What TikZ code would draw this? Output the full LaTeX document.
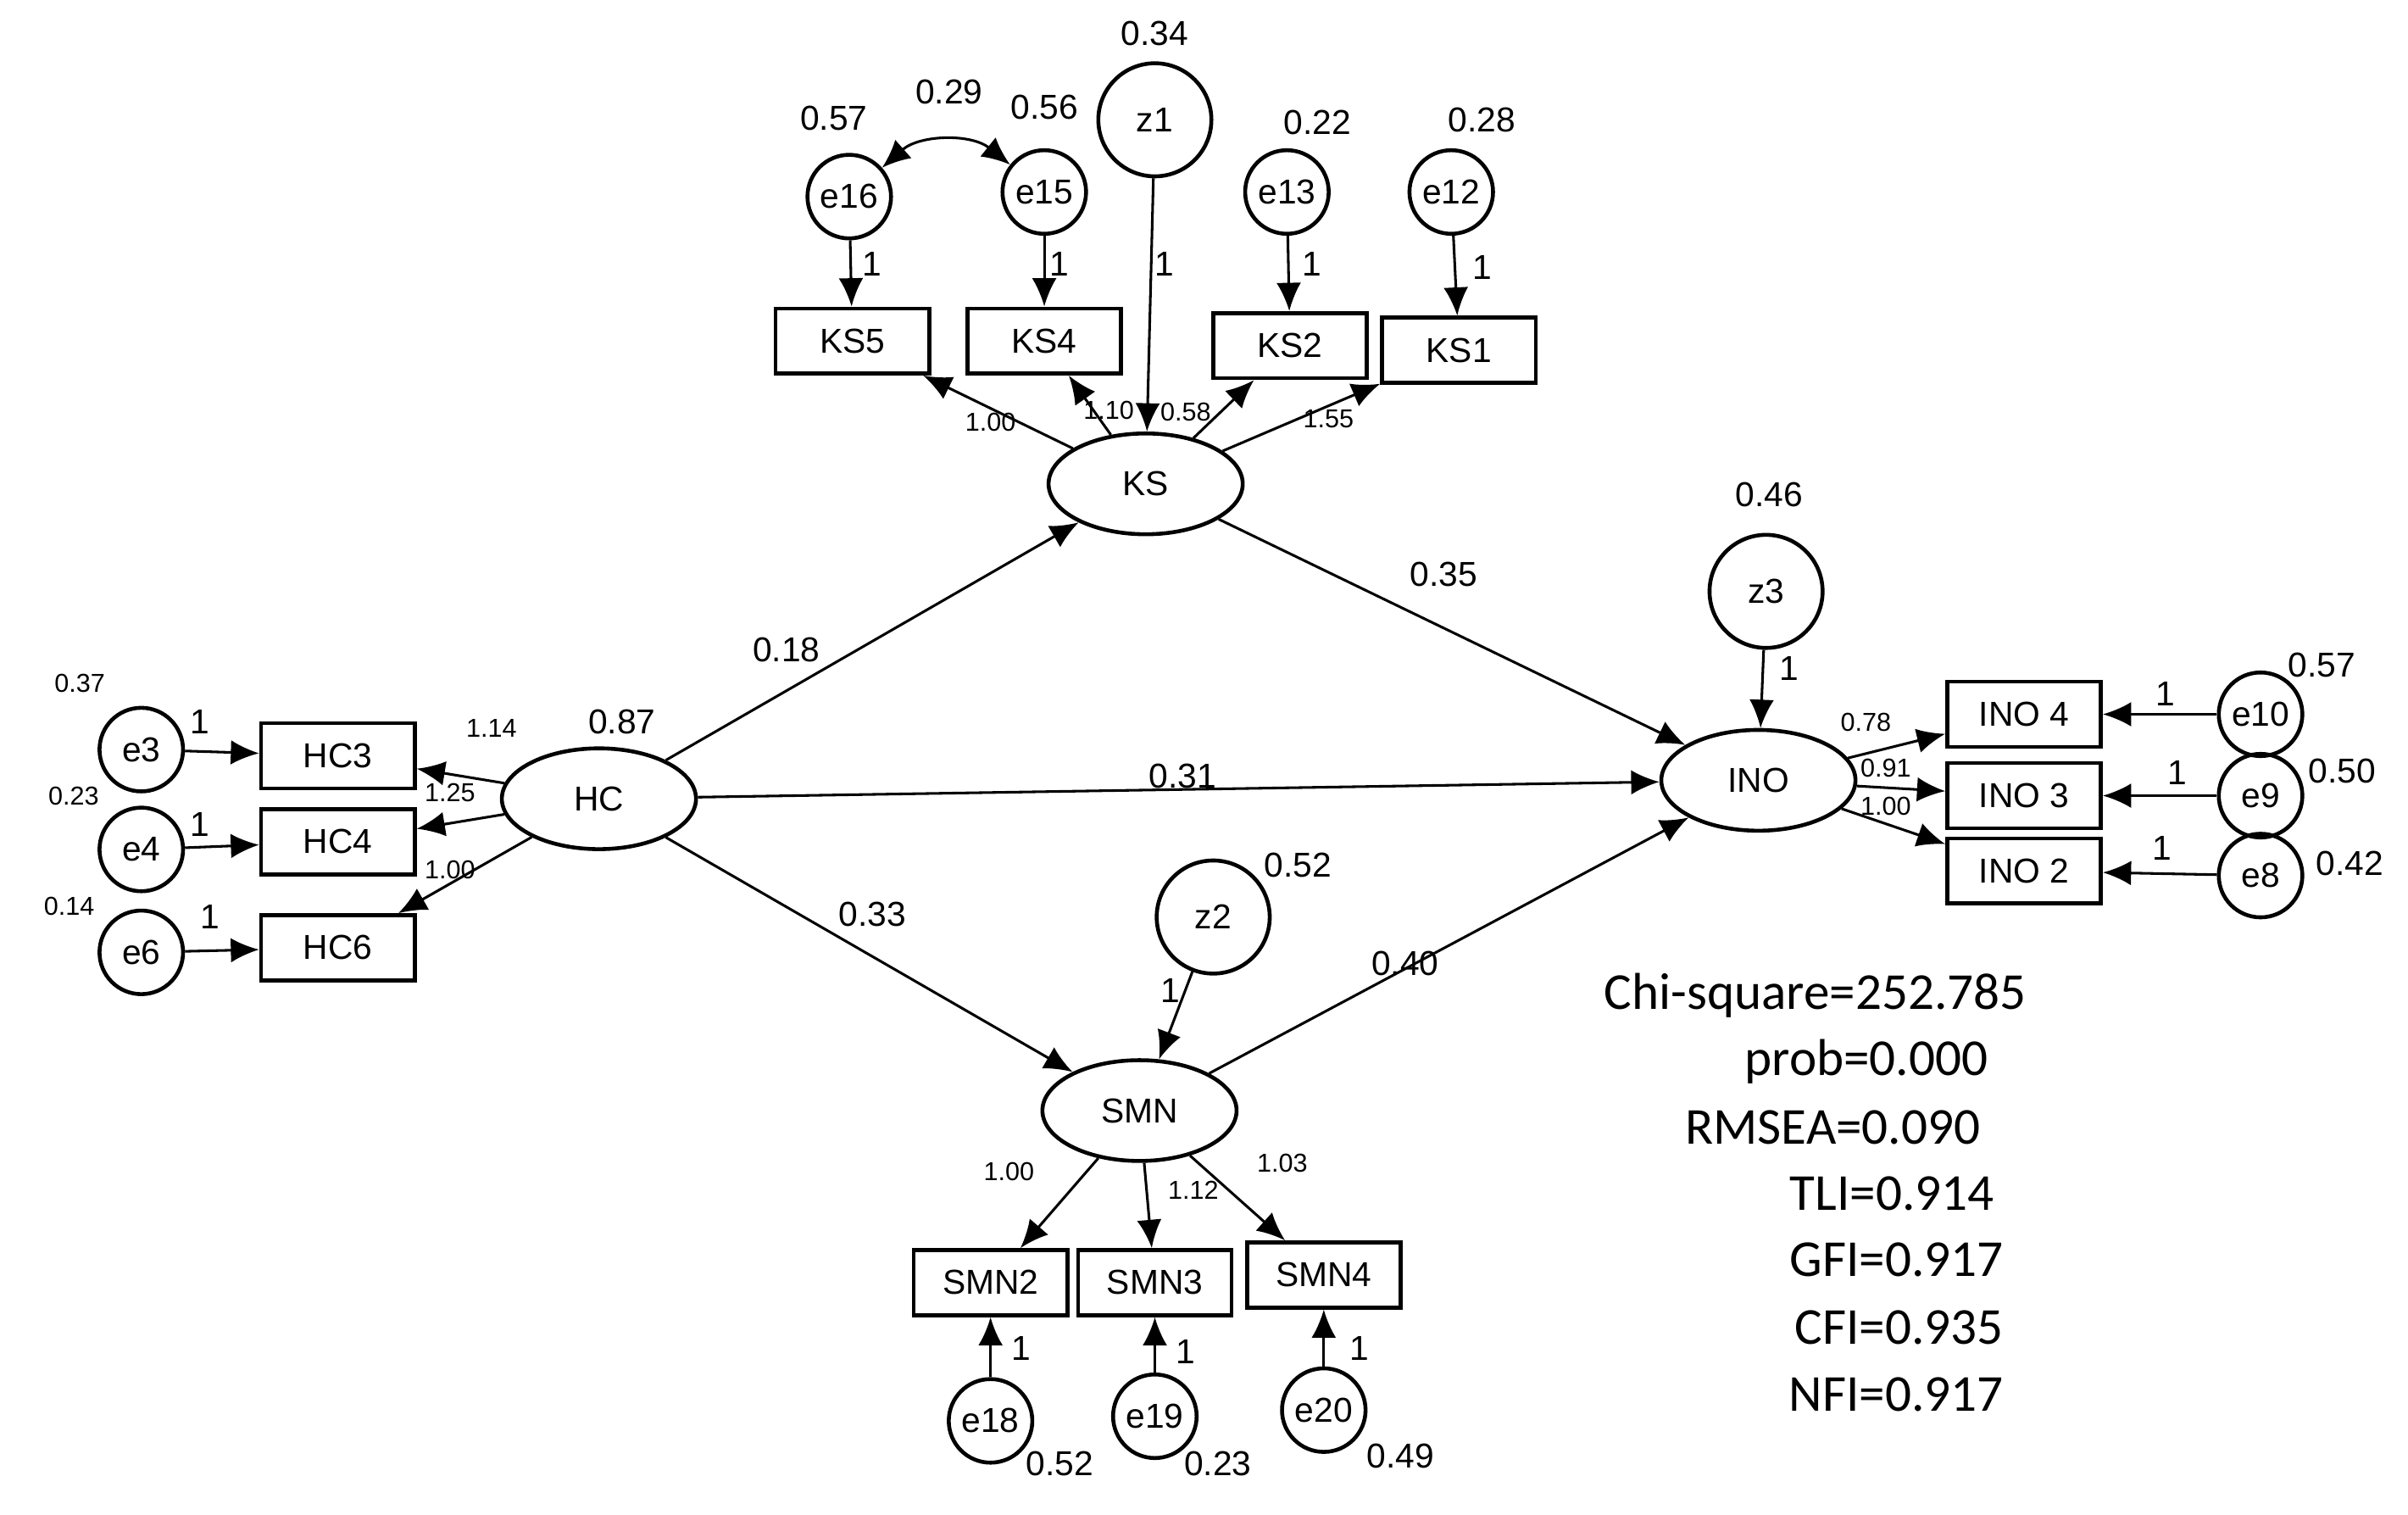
\documentclass[tikz,border=0pt]{standalone}
\usepackage{fontspec}
\usetikzlibrary{shapes.geometric,arrows.meta}
\setmainfont{Liberation Sans}
\newfontfamily\statf{Carlito}
\begin{document}
\begin{tikzpicture}[x=0.0125cm,y=-0.0125cm,
 box/.style={draw,line width=0.9pt,minimum width=1.25cm,minimum height=0.53cm,inner sep=0pt,font=\fontsize{8}{9}\selectfont},
 err/.style={draw,circle,line width=0.9pt,minimum size=0.68cm,inner sep=0pt,font=\fontsize{8}{9}\selectfont},
 dist/.style={draw,circle,line width=0.9pt,minimum size=0.92cm,inner sep=0pt,font=\fontsize{8}{9}\selectfont},
 lat/.style={draw,ellipse,line width=0.9pt,minimum width=1.58cm,minimum height=0.82cm,inner sep=0pt,font=\fontsize{8}{9}\selectfont},
 arr/.style={-{Latex[length=2.3mm,width=2mm]},line width=0.6pt},
 sm/.style={font=\fontsize{6}{7}\selectfont,inner sep=0pt},
 md/.style={font=\fontsize{8}{9}\selectfont,inner sep=0pt},
 st/.style={font=\statf\fontsize{12}{14}\selectfont,inner sep=0pt}]
\useasboundingbox (0,0) rectangle (1568,986);
% latent
\node[lat] (KS) at (746,315) {KS};
\node[lat] (HC) at (390,520) {HC};
\node[lat] (INO) at (1145,508) {INO};
\node[lat] (SMN) at (742,723) {SMN};
% disturbances
\node[dist] (z1) at (752,78) {z1};
\node[dist] (z3) at (1150,385) {z3};
\node[dist] (z2) at (790,597) {z2};
% KS indicators
\node[box] (KS5) at (555,222) {KS5};
\node[box] (KS4) at (680,222) {KS4};
\node[box] (KS2) at (840,225) {KS2};
\node[box] (KS1) at (950,228) {KS1};
\node[err] (e16) at (553,128) {e16};
\node[err] (e15) at (680,125) {e15};
\node[err] (e13) at (838,125) {e13};
\node[err] (e12) at (945,125) {e12};
% HC
\node[box] (HC3) at (220,492) {HC3};
\node[box] (HC4) at (220,548) {HC4};
\node[box] (HC6) at (220,617) {HC6};
\node[err] (e3) at (92,488) {e3};
\node[err] (e4) at (92,553) {e4};
\node[err] (e6) at (92,620) {e6};
% INO
\node[box] (INO4) at (1318,465) {INO 4};
\node[box] (INO3) at (1318,518) {INO 3};
\node[box] (INO2) at (1318,567) {INO 2};
\node[err] (e10) at (1472,465) {e10};
\node[err] (e9) at (1472,518) {e9};
\node[err] (e8) at (1472,570) {e8};
% SMN
\node[box] (SMN2) at (645,835) {SMN2};
\node[box] (SMN3) at (752,835) {SMN3};
\node[box] (SMN4) at (862,830) {SMN4};
\node[err] (e18) at (645,925) {e18};
\node[err] (e19) at (752,922) {e19};
\node[err] (e20) at (862,918) {e20};
% arrows
\foreach \a/\b in {e16/KS5,e15/KS4,e13/KS2,e12/KS1,z1/KS,z3/INO,z2/SMN,e3/HC3,e4/HC4,e6/HC6,e10/INO4,e9/INO3,e8/INO2,e18/SMN2,e19/SMN3,e20/SMN4,
 KS/KS5,KS/KS4,KS/KS2,KS/KS1,HC/HC3,HC/HC4,HC/HC6,INO/INO4,INO/INO3,INO/INO2,SMN/SMN2,SMN/SMN3,SMN/SMN4,HC/KS,HC/INO,HC/SMN,KS/INO,SMN/INO}
 \draw[arr] (\a) -- (\b);
\draw[{Latex[length=2.3mm,width=2mm]}-{Latex[length=2.3mm,width=2mm]},line width=0.6pt] (e16) to[bend left=40] (e15);
% variances
\node[md] at (752,22) {0.34};
\node[md] at (543,77) {0.57};
\node[md] at (680,70) {0.56};
\node[md] at (618,60) {0.29};
\node[md] at (858,80) {0.22};
\node[md] at (965,78) {0.28};
\node[md] at (1152,322) {0.46};
\node[md] at (845,563) {0.52};
\node[md] at (405,470) {0.87};
\node[sm] at (52,445) {0.37};
\node[sm] at (48,518) {0.23};
\node[sm] at (45,590) {0.14};
\node[md] at (1512,433) {0.57};
\node[md] at (1525,502) {0.50};
\node[md] at (1530,562) {0.42};
\node[md] at (690,953) {0.52};
\node[md] at (793,953) {0.23};
\node[md] at (912,948) {0.49};
% path coefficients
\node[md] at (512,423) {0.18};
\node[md] at (940,374) {0.35};
\node[md] at (770,505) {0.31};
\node[md] at (568,595) {0.33};
\node[md] at (915,627) {0.40};
% loadings
\node[sm] at (645,275) {1.00};
\node[sm] at (722,267) {1.10};
\node[sm] at (772,268) {0.58};
\node[sm] at (865,273) {1.55};
\node[sm] at (320,474) {1.14};
\node[sm] at (293,516) {1.25};
\node[sm] at (293,566) {1.00};
\node[sm] at (1215,470) {0.78};
\node[sm] at (1228,500) {0.91};
\node[sm] at (1228,525) {1.00};
\node[sm] at (657,763) {1.00};
\node[sm] at (777,775) {1.12};
\node[sm] at (835,757) {1.03};
% fixed 1s
\node[md] at (568,172) {1};
\node[md] at (690,172) {1};
\node[md] at (854,172) {1};
\node[md] at (965,174) {1};
\node[md] at (758,172) {1};
\node[md] at (1165,435) {1};
\node[md] at (762,645) {1};
\node[md] at (130,470) {1};
\node[md] at (130,537) {1};
\node[md] at (137,597) {1};
\node[md] at (1410,452) {1};
\node[md] at (1418,503) {1};
\node[md] at (1408,552) {1};
\node[md] at (665,878) {1};
\node[md] at (772,880) {1};
\node[md] at (885,878) {1};
% stats
\node[st,anchor=east] at (1320,648) {Chi-square=252.785};
\node[st,anchor=east] at (1295,691) {prob=0.000};
\node[st,anchor=east] at (1290,734) {RMSEA=0.090};
\node[st,anchor=east] at (1299,777) {TLI=0.914};
\node[st,anchor=east] at (1305,820) {GFI=0.917};
\node[st,anchor=east] at (1305,864) {CFI=0.935};
\node[st,anchor=east] at (1305,908) {NFI=0.917};
\end{tikzpicture}
\end{document}
